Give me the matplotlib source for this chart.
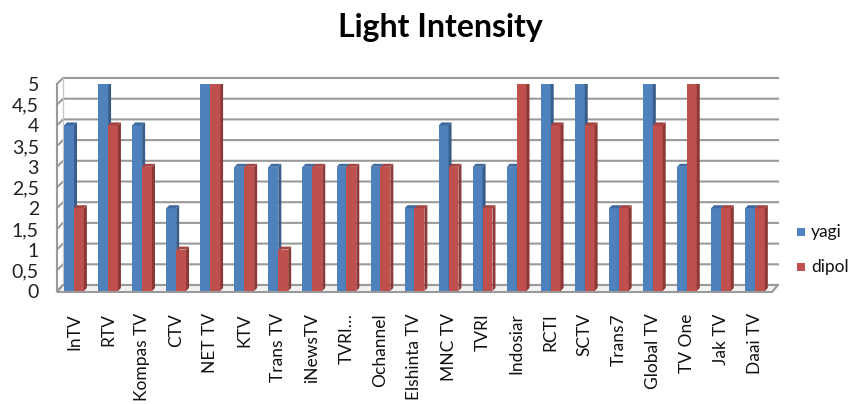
import matplotlib
matplotlib.use("Agg")
import matplotlib.pyplot as plt
from matplotlib.patches import Polygon, Rectangle
from matplotlib.lines import Line2D

channels = ["InTV", "RTV", "Kompas TV", "CTV", "NET TV", "KTV", "Trans TV", "iNewsTV",
            "TVRI…", "Ochannel", "Elshinta TV", "MNC TV", "TVRI", "Indosiar", "RCTI",
            "SCTV", "Trans7", "Global TV", "TV One", "Jak TV", "Daai TV"]
yagi = [4, 5, 4, 2, 5, 3, 3, 3, 3, 3, 2, 4, 3, 3, 5, 5, 2, 5, 3, 2, 2]
dipol = [2, 4, 3, 1, 5, 3, 1, 3, 3, 3, 2, 3, 2, 5, 4, 4, 2, 4, 5, 2, 2]
series_names = ["yagi", "dipol"]
yticks = [0, 0.5, 1, 1.5, 2, 2.5, 3, 3.5, 4, 4.5, 5]
ytick_labels = ["0", "0,5", "1", "1,5", "2", "2,5", "3", "3,5", "4", "4,5", "5"]
title = "Light Intensity"

plt.rcParams['font.family'] = ['Lato', 'DejaVu Sans']

W, H = 851, 404
fig = plt.figure(figsize=(W / 100, H / 100), dpi=100)
fig.patch.set_facecolor("white")
ax_l, ax_r, ax_b, ax_t = 57, 772, 291, 84
ax = fig.add_axes([ax_l / W, 1 - ax_b / H, (ax_r - ax_l) / W, (ax_b - ax_t) / H])
n = len(channels)
ax.set_xlim(0, n)
ax.set_ylim(0, 5)
pxx = (ax_r - ax_l) / n
pxy = (ax_b - ax_t) / 5.0


def dxu(px):
    return px / pxx


def dyu(px):
    return px / pxy


# back wall depth offset
bdx, bdy = dxu(6), dyu(6)
grid_c = "#9a9a9a"
for y in yticks:
    ax.add_line(Line2D([0, bdx, n + bdx], [y, y + bdy, y + bdy], color=grid_c,
                       lw=1.5, clip_on=False, zorder=1))
ax.add_line(Line2D([0, 0], [0, 5], color=grid_c, lw=1.5, clip_on=False, zorder=1))
ax.add_line(Line2D([bdx, bdx], [bdy, 5 + bdy], color="#c8c8c8", lw=1.0, clip_on=False, zorder=1))
floor = Polygon([[0, -dyu(1)], [n, -dyu(1)], [n + bdx, bdy], [bdx, bdy]], closed=True,
                facecolor="#f2f2f2", edgecolor=grid_c, lw=1.5, clip_on=False, zorder=1)
ax.add_patch(floor)

colors = ["#4f81bd", "#c0504d"]
side_colors = ["#385d8a", "#8c3836"]
top_colors = ["#3f6aa0", "#a44542"]
bw = 0.29
sdx, sdy = dxu(3), dyu(3)
for i in range(n):
    for s, vals in enumerate([yagi, dipol]):
        h = vals[i]
        x0 = i + 0.5 - bw + s * bw
        x1 = x0 + bw
        z = 3 + s
        ax.bar(x0, h, width=bw, align="edge", color=colors[s], zorder=z, lw=0)
        ax.add_patch(Polygon([[x1, 0], [x1 + sdx, sdy], [x1 + sdx, h + sdy], [x1, h]],
                             closed=True, facecolor=side_colors[s], lw=0, zorder=z))
        ax.add_patch(Polygon([[x0, h], [x1, h], [x1 + sdx, h + sdy], [x0 + sdx, h + sdy]],
                             closed=True, facecolor=top_colors[s], lw=0, zorder=z))

for sp in ax.spines.values():
    sp.set_visible(False)
ax.set_yticks(yticks)
ax.set_yticklabels(ytick_labels, fontsize=14, color="#222222")
ax.set_xticks([i + 0.5 for i in range(n)])
ax.set_xticklabels(channels, rotation=90, fontsize=12.5, color="#111111", va="top")
ax.tick_params(axis="both", length=0)
ax.tick_params(axis="y", pad=13)
ax.tick_params(axis="x", pad=16)
ax.set_facecolor("none")

fig.text(440 / W, 1 - 28 / H, title, ha="center", va="center", fontsize=23,
         fontweight="bold", color="#000000")

# legend
leg_y = [232, 267]
for s in range(2):
    fig.patches.append(Rectangle((797 / W, 1 - (leg_y[s] + 4) / H), 8 / W, 8 / H,
                                 transform=fig.transFigure, facecolor=colors[s],
                                 edgecolor="none"))
    fig.text(811 / W, 1 - leg_y[s] / H, series_names[s], ha="left", va="center",
             fontsize=12.5, color="#111111")

fig.savefig("out.png", dpi=100, facecolor="white")
